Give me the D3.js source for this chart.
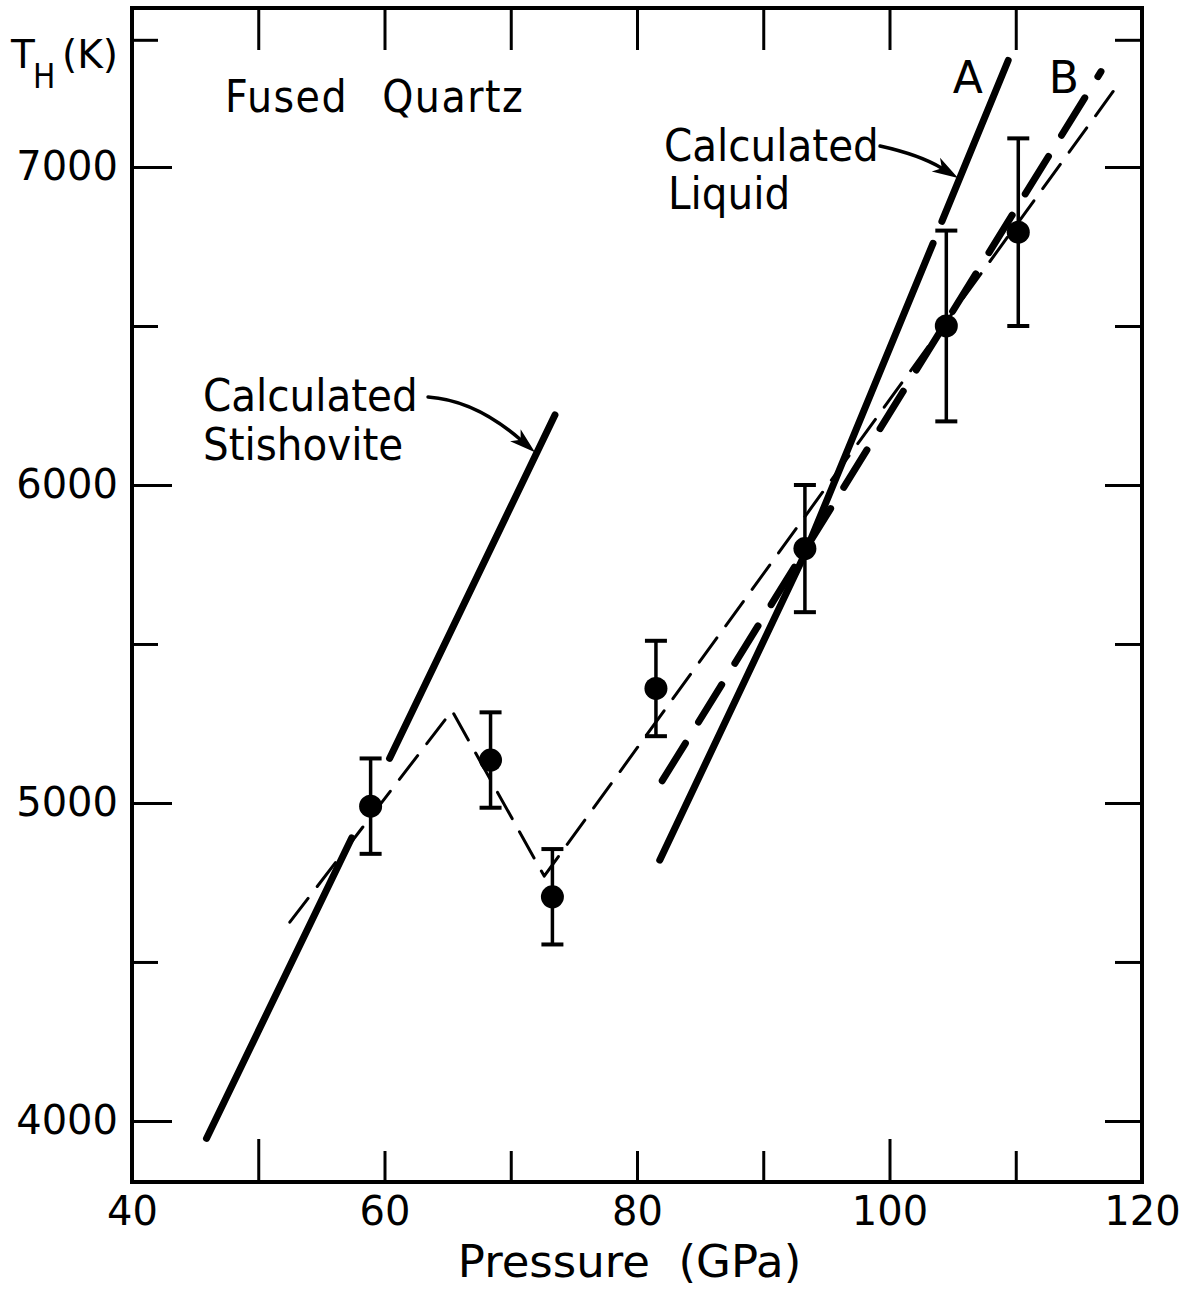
<!DOCTYPE html>
<html>
<head>
<meta charset="utf-8">
<script src="https://cdn.jsdelivr.net/npm/d3@7"></script>
<style>
  html, body { margin: 0; padding: 0; background: #fff; }
  svg { display: block; }
</style>
</head>
<body>
<svg id="chart" width="1182" height="1289"></svg>
<script>
// Shock (Hugoniot) temperature of fused quartz versus pressure.

// Measured points: pressure (GPa), temperature (K), error (K)
const pressure    = [58.9, 68.4, 73.3, 81.5, 93.3, 104.5, 110.2];
const temperature = [4990, 5135, 4705, 5360, 5800, 6500, 6795];
const tempError   = [150, 150, 150, 150, 200, 300, 295];

// Calculated stishovite Hugoniot, broken where it meets the first point
const stishoviteLower = [[45.9, 3945], [57.4, 4890]];
const stishoviteUpper = [[60.4, 5140], [73.5, 6220]];

// Calculated liquid, curve A (broken at the error-bar cap)
const liquidALower = [[81.8, 4820], [93.2, 5775], [103.45, 6760]];
const liquidAUpper = [[104.15, 6829], [109.4, 7335]];

// Calculated liquid, curve B
const liquidB = [[82.0, 5070], [116.75, 7300]];

// Light dashed trend through the measurements
const trend = [[52.5, 4625], [65.35, 5290], [72.65, 4770], [118.4, 7275]];

// Axis ticks
const xTickLabels = [40, 60, 80, 100, 120];
const xTickMarks  = [50, 60, 70, 80, 90, 100, 110];
const xTickLong   = [50, 100];
const yTicksMajor = [4000, 5000, 6000, 7000];
const yTicksMinor = [4500, 5500, 6500, 7400];

// Annotations, placed in data units
const labels = [
  { text: "Fused Quartz", p: 47.37, t: 7173, size: 44, family: "DejaVu Sans Condensed", anchor: "start", wordSpacing: 20, letterSpacing: 1.5 },
  { text: "Calculated",   p: 45.62, t: 6232, size: 45, family: "DejaVu Sans Condensed", anchor: "start" },
  { text: "Stishovite",   p: 45.62, t: 6078, size: 45, family: "DejaVu Sans Condensed", anchor: "start" },
  { text: "Calculated",   p: 82.14, t: 7019, size: 45, family: "DejaVu Sans Condensed", anchor: "start" },
  { text: "Liquid",       p: 82.46, t: 6868, size: 45, family: "DejaVu Sans Condensed", anchor: "start" },
  { text: "A",            p: 106.2, t: 7233, size: 44, family: "DejaVu Sans", anchor: "middle" },
  { text: "B",            p: 113.8, t: 7233, size: 44, family: "DejaVu Sans", anchor: "middle" }
];

// Curved pointer arrows: start, control, tip (data units)
const pointers = [
  [[63.45, 6277], [67.17, 6267], [71.92, 6103]],
  [[99.25, 7066], [102.42, 7038], [105.43, 6965]]
];

const svg = d3.select("#chart");

const x = d3.scaleLinear().domain([40, 120]).range([132, 1142]);
const y = d3.scaleLinear().domain([3808, 7500]).range([1182, 8]);

const [xL, xR] = x.range();
const [yB, yT] = y.range();

function tickStyle(g) {
  g.select(".domain").remove();
  g.selectAll(".tick line").attr("stroke", "#000").attr("stroke-width", 3);
}
function labelStyle(g) {
  g.selectAll(".tick text")
    .attr("font-family", "DejaVu Sans")
    .attr("font-size", 40)
    .attr("fill", "#000");
}

// Inward tick marks on all four sides
svg.append("g").attr("transform", `translate(0,${yB})`)
  .call(d3.axisBottom(x).tickValues(xTickMarks.filter(v => !xTickLong.includes(v))).tickSize(-31).tickFormat(""))
  .call(tickStyle);
svg.append("g").attr("transform", `translate(0,${yB})`)
  .call(d3.axisBottom(x).tickValues(xTickLong).tickSize(-43).tickFormat(""))
  .call(tickStyle);
svg.append("g").attr("transform", `translate(0,${yT})`)
  .call(d3.axisTop(x).tickValues(xTickMarks).tickSize(-42).tickFormat(""))
  .call(tickStyle);
svg.append("g").attr("transform", `translate(${xL},0)`)
  .call(d3.axisLeft(y).tickValues(yTicksMajor).tickSize(-40).tickPadding(14).tickFormat(d3.format("d")))
  .call(tickStyle).call(labelStyle);
svg.append("g").attr("transform", `translate(${xL},0)`)
  .call(d3.axisLeft(y).tickValues(yTicksMinor).tickSize(-26).tickFormat(""))
  .call(tickStyle);
svg.append("g").attr("transform", `translate(${xR},0)`)
  .call(d3.axisRight(y).tickValues(yTicksMajor).tickSize(-37).tickFormat(""))
  .call(tickStyle);
svg.append("g").attr("transform", `translate(${xR},0)`)
  .call(d3.axisRight(y).tickValues(yTicksMinor).tickSize(-27).tickFormat(""))
  .call(tickStyle);

// Pressure labels under the frame
svg.append("g").attr("transform", `translate(0,${yB})`)
  .call(d3.axisBottom(x).tickValues(xTickLabels).tickSize(0).tickPadding(15).tickFormat(d3.format("d")))
  .call(g => g.select(".domain").remove())
  .call(labelStyle);

// Frame
svg.append("rect")
  .attr("x", xL).attr("y", yT)
  .attr("width", xR - xL).attr("height", yB - yT)
  .attr("fill", "none").attr("stroke", "#000").attr("stroke-width", 4);

// Axis titles
svg.append("text")
  .attr("x", (447 + 812) / 2).attr("y", 1277)
  .attr("text-anchor", "middle")
  .attr("font-family", "DejaVu Sans").attr("font-size", 45)
  .style("white-space", "pre")
  .text("Pressure  (GPa)");

const yTitle = svg.append("text")
  .attr("font-family", "DejaVu Sans").attr("font-size", 39).attr("fill", "#000");
yTitle.append("tspan").attr("x", 11).attr("y", 68).text("T");
yTitle.append("tspan").attr("x", 33).attr("y", 88)
  .attr("font-family", "DejaVu Sans Condensed").attr("font-size", 33).text("H");
yTitle.append("tspan").attr("x", 62).attr("y", 68).text("(K)");

// Curves
const line = d3.line().x(d => x(d[0])).y(d => y(d[1]));
const curves = svg.append("g")
  .attr("fill", "none").attr("stroke", "#000")
  .attr("stroke-linecap", "round").attr("stroke-linejoin", "round");

[stishoviteLower, stishoviteUpper, liquidALower, liquidAUpper].forEach(seg => {
  curves.append("path").attr("d", line(seg)).attr("stroke-width", 7);
});
curves.append("path").attr("d", line(liquidB))
  .attr("stroke-width", 7).attr("stroke-dasharray", "44 25");
curves.append("path").attr("d", line(trend))
  .attr("stroke-width", 3).attr("stroke-dasharray", "30 15");

// Measurements with error bars
const points = pressure.map((p, i) => ({ p, t: temperature[i], e: tempError[i] }));
const capHalf = 11;
const marks = svg.append("g").selectAll("g").data(points).join("g").attr("stroke", "#000");
marks.append("line")
  .attr("x1", d => x(d.p)).attr("x2", d => x(d.p))
  .attr("y1", d => y(d.t + d.e)).attr("y2", d => y(d.t - d.e))
  .attr("stroke-width", 3.5);
marks.append("line")
  .attr("x1", d => x(d.p) - capHalf).attr("x2", d => x(d.p) + capHalf)
  .attr("y1", d => y(d.t + d.e)).attr("y2", d => y(d.t + d.e))
  .attr("stroke-width", 4);
marks.append("line")
  .attr("x1", d => x(d.p) - capHalf).attr("x2", d => x(d.p) + capHalf)
  .attr("y1", d => y(d.t - d.e)).attr("y2", d => y(d.t - d.e))
  .attr("stroke-width", 4);
marks.append("circle")
  .attr("cx", d => x(d.p)).attr("cy", d => y(d.t))
  .attr("r", 11.5).attr("fill", "#000").attr("stroke", "none");

// Annotation text
svg.append("g").selectAll("text").data(labels).join("text")
  .attr("x", d => x(d.p)).attr("y", d => y(d.t))
  .attr("text-anchor", d => d.anchor)
  .attr("font-family", d => d.family)
  .attr("font-size", d => d.size)
  .attr("word-spacing", d => d.wordSpacing || 0)
  .attr("letter-spacing", d => d.letterSpacing || 0)
  .attr("fill", "#000")
  .text(d => d.text);

// Pointer arrows
const arrows = svg.append("g");
pointers.forEach(pts => {
  const [s, c, e] = pts.map(d => [x(d[0]), y(d[1])]);
  const ang = Math.atan2(e[1] - c[1], e[0] - c[0]);
  const len = 26, half = 8, notch = 19;
  const ux = Math.cos(ang), uy = Math.sin(ang);
  const bx = e[0] - ux * len, by = e[1] - uy * len;
  const nx = e[0] - ux * notch, ny = e[1] - uy * notch;
  const path = d3.path();
  path.moveTo(s[0], s[1]);
  path.quadraticCurveTo(c[0], c[1], nx, ny);
  arrows.append("path").attr("d", path.toString())
    .attr("fill", "none").attr("stroke", "#000").attr("stroke-width", 3.5)
    .attr("stroke-linecap", "round");
  const head = [
    [e[0], e[1]],
    [bx - uy * half, by + ux * half],
    [nx, ny],
    [bx + uy * half, by - ux * half]
  ];
  arrows.append("path")
    .attr("d", "M" + head.map(h => h.join(",")).join("L") + "Z")
    .attr("fill", "#000");
});
</script>
</body>
</html>
